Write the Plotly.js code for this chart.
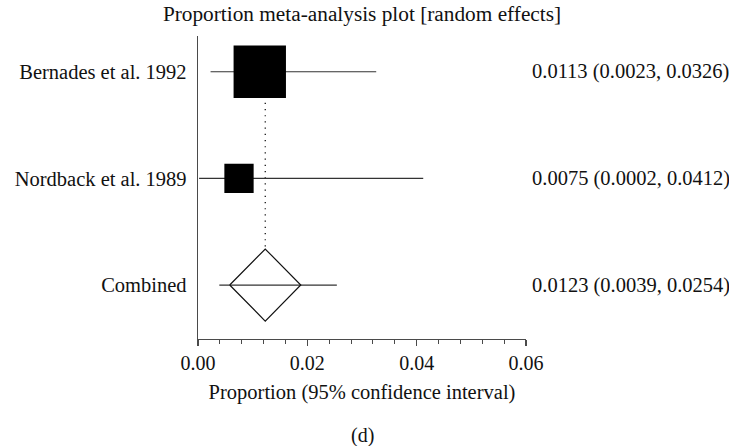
<!DOCTYPE html>
<html>
<head>
<meta charset="utf-8">
<script src="https://cdn.plot.ly/plotly-3.0.1.min.js"></script>
<style>
  html, body { margin: 0; padding: 0; background: #ffffff; }
  #chart { width: 729px; height: 446px; }
</style>
</head>
<body>
<div id="chart"></div>
<script>
// Individual studies: point estimate and 95% confidence interval
const studies   = ['Bernades et al. 1992', 'Nordback et al. 1989'];
const estimates = [0.0113, 0.0075];
const lowerCI   = [0.0023, 0.0002];
const upperCI   = [0.0326, 0.0412];
// relative study weights (box area is proportional to weight)
const weights   = [0.762, 0.238];

// Pooled (random effects) result
const pooledLabel    = 'Combined';
const pooledEstimate = 0.0123;
const pooledLower    = 0.0039;
const pooledUpper    = 0.0254;

// x axis ticks
const xTicks = [0, 0.02, 0.04, 0.06];

// ---- drawing ----
const FONT = 'Liberation Serif, Times New Roman, serif';
const INK = '#111111';
const LINE = '#333333';
const AXIS = '#4a4a4a';

// rows from top to bottom: studies then combined
const nRows = studies.length + 1;
const studyRows = studies.map((_, i) => nRows - i);
const pooledRow = 1;

const boxScale = 60;          // px for weight 1
const diamondHalfWidth = 0.0065;
const diamondHalfHeight = 0.338;

const traces = [];

// dotted reference line at the pooled estimate
traces.push({
  x: [pooledEstimate, pooledEstimate],
  y: [studyRows[0], pooledRow + diamondHalfHeight],
  mode: 'lines',
  line: { color: '#000000', width: 1.2, dash: '1.2px,5px' },
  hoverinfo: 'skip', showlegend: false
});

// confidence interval lines for the studies
studies.forEach((s, i) => {
  traces.push({
    x: [lowerCI[i], upperCI[i]],
    y: [studyRows[i], studyRows[i]],
    mode: 'lines',
    line: { color: LINE, width: 1.2 },
    hoverinfo: 'skip', showlegend: false
  });
});

// pooled confidence interval line
traces.push({
  x: [pooledLower, pooledUpper],
  y: [pooledRow, pooledRow],
  mode: 'lines',
  line: { color: LINE, width: 1.2 },
  hoverinfo: 'skip', showlegend: false
});

// pooled diamond
traces.push({
  x: [pooledEstimate - diamondHalfWidth, pooledEstimate, pooledEstimate + diamondHalfWidth, pooledEstimate, pooledEstimate - diamondHalfWidth],
  y: [pooledRow, pooledRow + diamondHalfHeight, pooledRow, pooledRow - diamondHalfHeight, pooledRow],
  mode: 'lines',
  fill: 'none',
  line: { color: INK, width: 1.2 },
  hoverinfo: 'skip', showlegend: false
});

// study boxes
traces.push({
  x: estimates,
  y: studyRows,
  mode: 'markers',
  marker: {
    symbol: 'square',
    size: weights.map(w => boxScale * Math.sqrt(w)),
    color: '#000000',
    opacity: 1,
    line: { width: 0 }
  },
  hoverinfo: 'skip', showlegend: false
});

// value labels on the right
const LABEL_SIZE = 20.5;
const fmt = v => v.toFixed(4);
const annotations = studies.map((s, i) => ({
  xref: 'paper', yref: 'y', x: 1, y: studyRows[i],
  xanchor: 'left', yanchor: 'middle', xshift: 4,
  text: fmt(estimates[i]) + ' (' + fmt(lowerCI[i]) + ', ' + fmt(upperCI[i]) + ')',
  showarrow: false, font: { family: FONT, size: LABEL_SIZE, color: INK }
}));
annotations.push({
  xref: 'paper', yref: 'y', x: 1, y: pooledRow,
  xanchor: 'left', yanchor: 'middle', xshift: 4,
  text: fmt(pooledEstimate) + ' (' + fmt(pooledLower) + ', ' + fmt(pooledUpper) + ')',
  showarrow: false, font: { family: FONT, size: LABEL_SIZE, color: INK }
});
// panel caption
annotations.push({
  xref: 'paper', yref: 'paper', x: 0.5, y: -0.317,
  xanchor: 'center', yanchor: 'middle',
  text: '(d)', showarrow: false,
  font: { family: FONT, size: 20, color: INK }
});

const layout = {
  width: 729, height: 446,
  margin: { l: 198, r: 203, t: 36, b: 107, pad: 0 },
  paper_bgcolor: '#ffffff', plot_bgcolor: '#ffffff',
  font: { family: FONT, size: 20, color: INK },
  title: {
    text: 'Proportion meta-analysis plot [random effects]',
    font: { family: FONT, size: 21.3, color: INK },
    xref: 'paper', x: 0.5, xanchor: 'center',
    yref: 'container', y: 1 - 14 / 446, yanchor: 'middle'
  },
  xaxis: {
    range: [0, 0.06],
    tickvals: xTicks,
    tickformat: '.2f',
    ticks: 'outside', ticklen: 6, tickwidth: 1.2, tickcolor: AXIS,
    minor: { dtick: 0.004, tick0: 0, ticks: 'outside', ticklen: 3.5, tickwidth: 1, tickcolor: AXIS, showgrid: false },
    showline: true, linecolor: AXIS, linewidth: 1.3,
    showgrid: false, zeroline: false,
    tickfont: { family: FONT, size: 20, color: INK },
    title: { text: 'Proportion (95% confidence interval)', font: { family: FONT, size: 20.5, color: INK }, standoff: 11 },
    fixedrange: true
  },
  yaxis: {
    range: [0.494, 3.335],
    tickvals: studyRows.concat([pooledRow]),
    ticktext: studies.concat([pooledLabel]),
    ticks: 'outside', ticklen: 6, tickcolor: 'rgba(0,0,0,0)',
    showline: true, linecolor: AXIS, linewidth: 1.3,
    showgrid: false, zeroline: false,
    tickfont: { family: FONT, size: LABEL_SIZE, color: INK },
    fixedrange: true
  },
  annotations: annotations,
  showlegend: false
};

Plotly.newPlot('chart', traces, layout, { displayModeBar: false, staticPlot: true });
</script>
</body>
</html>
